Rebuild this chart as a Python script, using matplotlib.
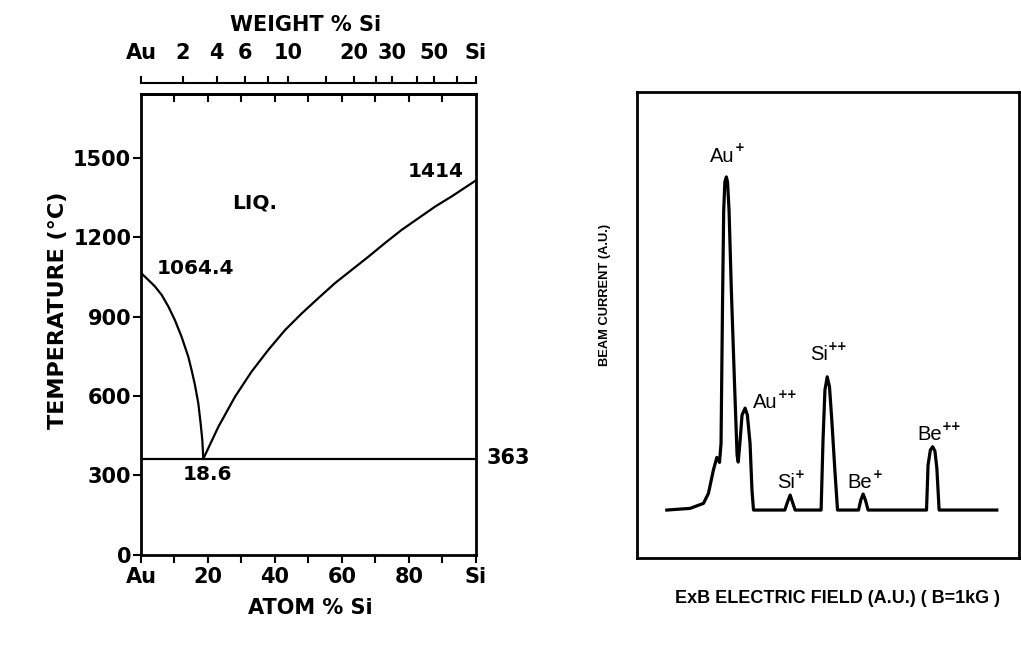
import numpy as np
import matplotlib
matplotlib.use('Agg')
import matplotlib.pyplot as plt

plt.rcParams['font.family'] = ['DejaVu Sans']

# ---- Au-Si phase diagram ----
au_liq_at = [0, 2.2, 4.2, 6.2, 8.2, 10.1, 12.1, 14.1, 15.1, 16.1, 17.1, 17.8, 18.3, 18.6]
au_liq_T = [1064.4, 1038, 1013, 981, 937, 887, 824, 749, 698, 642, 573, 497, 434, 363]
si_liq_at = [18.6, 23.1, 28.1, 33.0, 38.0, 43.0, 48.0, 52.9, 57.9, 62.9, 67.9, 72.8,
             77.8, 82.8, 87.8, 92.7, 100]
si_liq_T = [363, 484, 598, 692, 774, 849, 912, 969, 1026, 1076, 1126, 1177,
            1227, 1271, 1315, 1353, 1414]
eutectic_T = 363
temp_ticks = [0, 300, 600, 900, 1200, 1500]
atom_ticks = [0, 20, 40, 60, 80, 100]
atom_labels = ['Au', '20', '40', '60', '80', 'Si']
wt_ticks = [0, 2, 4, 6, 10, 20, 30, 50, 100]
wt_labels = ['Au', '2', '4', '6', '10', '20', '30', '50', 'Si']
wt_minor = [8, 15, 25, 40, 70]

# ---- ExB spectrum trace (arbitrary units) ----
spec_x = [7.8, 13.9, 17.4, 18.7, 20.0, 20.9, 21.6, 22.0, 22.4, 22.7, 23.0, 23.4, 23.7,
          24.1, 24.7, 25.5, 26.2, 26.5, 27.0, 27.5, 28.3, 28.9, 29.6, 30.1, 30.5,
          38.7, 39.4, 40.1, 40.7, 41.4,
          48.2, 48.7, 49.2, 49.8, 50.4, 51.0, 51.8, 52.5,
          58.0, 58.6, 59.2, 59.8, 60.5,
          75.8, 76.2, 76.8, 77.4, 78.0, 78.5, 79.1, 94.2]
spec_y = [0, 0.5, 2.0, 5.0, 12.0, 15.8, 14.3, 20, 63, 90, 98.5, 100, 98.5,
          90, 66, 39, 16.5, 14.4, 21, 28.5, 30.6, 28.5, 20, 6, 0,
          0, 2.4, 4.5, 2.4, 0,
          0, 21, 36, 40, 37, 27, 12, 0,
          0, 3.0, 4.8, 3.0, 0,
          0, 13.5, 18, 19, 17.7, 12.6, 0, 0]
peak_names = ['Au', 'Au', 'Si', 'Si', 'Be', 'Be']
peak_charge = ['+', '++', '+', '++', '+', '++']
peak_lx = [19.1, 30.4, 36.6, 45.3, 55.2, 73.3]
peak_ly = [104.5, 30.6, 6.6, 45.0, 6.6, 21.0]

M_SI, M_AU = 28.086, 196.97


def at_to_wt(x):
    x = np.asarray(x, dtype=float)
    with np.errstate(divide='ignore', invalid='ignore'):
        return 100 * x * M_SI / (x * M_SI + (100 - x) * M_AU)


def wt_to_at(w):
    w = np.asarray(w, dtype=float)
    with np.errstate(divide='ignore', invalid='ignore'):
        return 100 * (w / M_SI) / (w / M_SI + (100 - w) / M_AU)


fig = plt.figure(figsize=(10.21, 6.46), dpi=100)

# ---------------- left: phase diagram ----------------
ax1 = fig.add_axes([0.1381, 0.1409, 0.3281, 0.7136])
ax1.plot(au_liq_at, au_liq_T, color='black', lw=1.6)
ax1.plot(si_liq_at, si_liq_T, color='black', lw=1.6)
ax1.axhline(eutectic_T, color='black', lw=1.6)
ax1.set_xlim(0, 100)
ax1.set_ylim(0, 1740)
for s in ax1.spines.values():
    s.set_linewidth(2)

ax1.set_xticks(atom_ticks, labels=atom_labels)
ax1.set_xticks(range(10, 100, 20), minor=True)
ax1.set_yticks(temp_ticks)
ax1.tick_params(which='both', direction='out', length=6, width=1.5, labelsize=15)
ax1.tick_params(axis='x', pad=3)
ax1.tick_params(axis='y', pad=1)
for lbl in ax1.get_xticklabels() + ax1.get_yticklabels():
    lbl.set_fontweight('bold')

# inward ticks along the top of the box
top = ax1.secondary_xaxis('top')
top.set_xticks(range(10, 100, 10))
top.tick_params(direction='in', length=6, width=1.5, labeltop=False)
top.spines['top'].set_linewidth(2)

# weight % scale above the box
wt = ax1.secondary_xaxis(1.024, functions=(at_to_wt, wt_to_at))
wt.set_xticks(wt_ticks, labels=wt_labels)
wt.set_xticks(wt_minor, minor=True)
wt.tick_params(which='both', direction='out', length=5, width=1.5, pad=9, labelsize=15)
wt.spines['top'].set_linewidth(1.5)
for lbl in wt.get_xticklabels():
    lbl.set_fontweight('bold')

bold = dict(fontweight='bold', color='black')
ax1.text(4.8, 1082, '1064.4', fontsize=14.5, ha='left', va='center', **bold)
ax1.text(27.2, 1327, 'LIQ.', fontsize=14.5, ha='left', va='center', **bold)
ax1.text(79.7, 1448, '1414', fontsize=14.5, ha='left', va='center', **bold)
ax1.text(12.5, 302, '18.6', fontsize=14.5, ha='left', va='center', **bold)
ax1.text(103.3, 366, '363', fontsize=15, ha='left', va='center', clip_on=False, **bold)

ax1.text(-0.248, 0.531, 'TEMPERATURE (°C)', transform=ax1.transAxes, rotation=90,
         fontsize=16, ha='center', va='center', **bold)
ax1.text(0.504, -0.115, 'ATOM % Si', transform=ax1.transAxes,
         fontsize=15, ha='center', va='center', **bold)
ax1.text(0.49, 1.150, 'WEIGHT % Si', transform=ax1.transAxes,
         fontsize=15, ha='center', va='center', **bold)

# ---------------- right: ExB spectrum ----------------
ax2 = fig.add_axes([0.6239, 0.1362, 0.3741, 0.7214])
ax2.plot(spec_x, spec_y, color='black', lw=2.3, solid_joinstyle='round')
ax2.set_xlim(0, 100)
ax2.set_ylim(-14.4, 125.5)
ax2.set_xticks([])
ax2.set_yticks([])
for s in ax2.spines.values():
    s.set_linewidth(2)

for name, ch, lx, ly in zip(peak_names, peak_charge, peak_lx, peak_ly):
    t = ax2.text(lx, ly, name, fontsize=14.5, family='Liberation Sans',
                 ha='left', va='baseline')
    ax2.annotate(ch, xy=(1.0, 0.95), xycoords=t, fontsize=8.5, fontweight='bold',
                 family='DejaVu Sans', ha='left', va='center')

ax2.text(-0.084, 0.564, 'BEAM CURRENT (A.U.)', transform=ax2.transAxes, rotation=90,
         fontsize=9.3, family='Liberation Sans', fontweight='bold',
         ha='center', va='center')
ax2.text(0.526, -0.086, 'ExB ELECTRIC FIELD (A.U.) ( B=1kG )', transform=ax2.transAxes,
         fontsize=13, family='Liberation Sans', fontweight='bold',
         ha='center', va='center')

fig.savefig('out.png', dpi=100)
